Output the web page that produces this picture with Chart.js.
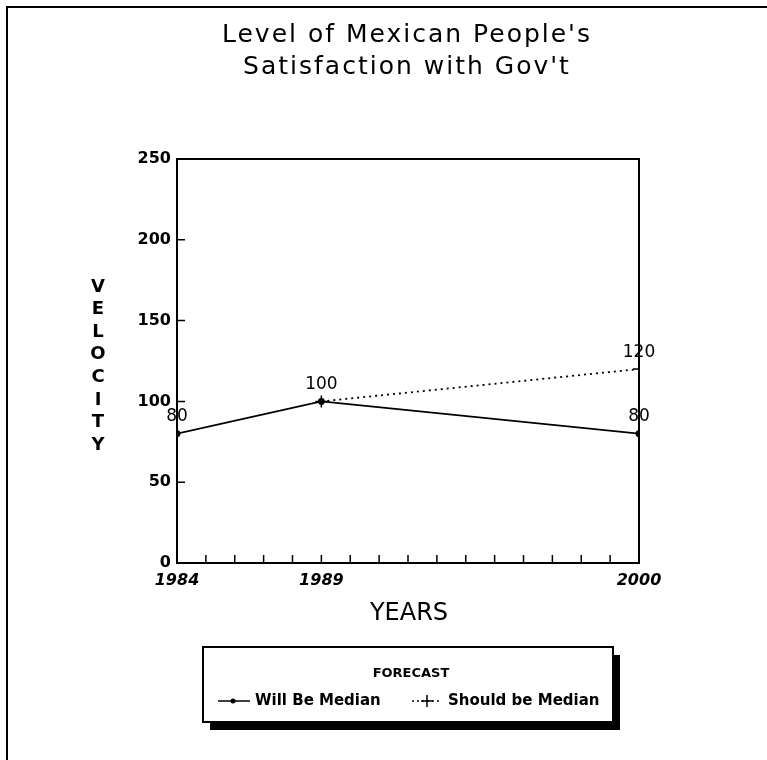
<!DOCTYPE html>
<html>
<head>
<meta charset="utf-8">
<script src="https://cdn.jsdelivr.net/npm/chart.js@4.4.0/dist/chart.umd.min.js"></script>
<style>
  html, body { margin: 0; padding: 0; background: #fff; }
  #wrap { width: 767px; height: 760px; position: relative; }
</style>
</head>
<body>
<div id="wrap"><canvas id="chart" width="767" height="760"></canvas></div>
<script>
// chart data
const titleLines = ["Level of Mexican People's", "Satisfaction with Gov't"];
const years = [1984, 1989, 2000];
const willBeMedian = [80, 100, 80];
const shouldBeMedian = [null, 100, 120];
const seriesNames = ['Will Be Median', 'Should be Median'];
const xTickLabels = [1984, 1989, 2000];
const yTitle = 'VELOCITY';
const xTitle = 'YEARS';
const legendTitle = 'FORECAST';

const FONT = '"DejaVu Sans", "Liberation Sans", sans-serif';

function toPoints(vals) {
  return years.map((yr, i) => ({ x: yr, y: vals[i] }));
}

// frame, inward ticks, value labels, titles and the boxed legend
const decor = {
  id: 'decor',
  afterDraw(chart) {
    const { ctx, chartArea: a, scales } = chart;
    const xs = scales.x, ys = scales.y;
    ctx.save();
    ctx.strokeStyle = '#000';
    ctx.fillStyle = '#000';

    // outer page frame (left + top only, like the scan)
    ctx.lineWidth = 2;
    ctx.beginPath();
    ctx.moveTo(7, 760); ctx.lineTo(7, 7); ctx.lineTo(767, 7);
    ctx.stroke();

    // plot box
    ctx.strokeRect(a.left, a.top, a.right - a.left, a.bottom - a.top);

    // inward ticks
    ctx.lineWidth = 1.5;
    ctx.beginPath();
    ys.ticks.forEach((t) => {
      const y = ys.getPixelForValue(t.value);
      ctx.moveTo(a.left, y); ctx.lineTo(a.left + 8, y);
    });
    for (let yr = xs.min; yr <= xs.max; yr++) {
      const x = xs.getPixelForValue(yr);
      ctx.moveTo(x, a.bottom); ctx.lineTo(x, a.bottom - 8);
    }
    ctx.stroke();

    // value labels above the points
    ctx.font = '17px ' + FONT;
    ctx.textAlign = 'center';
    ctx.textBaseline = 'middle';
    chart.data.datasets.forEach((ds, i) => {
      chart.getDatasetMeta(i).data.forEach((pt, j) => {
        const v = ds.data[j].y;
        if (v == null) return;
        if (i === 1 && willBeMedian[j] === v) return; // shared point, labelled once
        ctx.fillText(String(v), pt.x, pt.y - 17);
      });
    });

    // chart title
    ctx.font = '25px ' + FONT;
    ctx.letterSpacing = '2px';
    titleLines.forEach((line, i) => ctx.fillText(line, 407, 35 + i * 32));

    // x title
    ctx.font = '24px ' + FONT;
    ctx.letterSpacing = '0px';
    ctx.fillText(xTitle, 409, 614);

    // y title, stacked letters
    ctx.font = 'bold 18px ' + FONT;
    yTitle.split('').forEach((ch, i) => ctx.fillText(ch, 98, 287 + i * 22.6));

    // legend box with drop shadow
    const lx = 203, ly = 647, lw = 410, lh = 75;
    ctx.fillRect(lx + 7, ly + 8, lw, lh);
    ctx.fillStyle = '#fff';
    ctx.fillRect(lx, ly, lw, lh);
    ctx.fillStyle = '#000';
    ctx.lineWidth = 2;
    ctx.strokeRect(lx, ly, lw, lh);

    ctx.font = 'bold 13px ' + FONT;
    ctx.fillText(legendTitle, 411, 674);

    const iy = 701;
    ctx.lineWidth = 1.5;
    ctx.beginPath(); ctx.moveTo(218, iy); ctx.lineTo(250, iy); ctx.stroke();
    ctx.beginPath(); ctx.arc(233, iy, 2.5, 0, Math.PI * 2); ctx.fill();
    ctx.setLineDash([2, 3]);
    ctx.beginPath(); ctx.moveTo(412, iy); ctx.lineTo(441, iy); ctx.stroke();
    ctx.setLineDash([]);
    ctx.beginPath();
    ctx.moveTo(427, iy - 6); ctx.lineTo(427, iy + 6);
    ctx.moveTo(421, iy); ctx.lineTo(433, iy);
    ctx.stroke();

    ctx.font = 'bold 15px ' + FONT;
    ctx.textAlign = 'left';
    ctx.fillText(seriesNames[0], 255, iy);
    ctx.fillText(seriesNames[1], 448, iy);
    ctx.restore();
  }
};

new Chart(document.getElementById('chart'), {
  type: 'line',
  data: {
    datasets: [
      {
        label: seriesNames[0],
        data: toPoints(willBeMedian),
        borderColor: '#000',
        backgroundColor: '#000',
        borderWidth: 1.8,
        pointStyle: 'circle',
        pointRadius: 2.5,
        tension: 0,
      },
      {
        label: seriesNames[1],
        data: toPoints(shouldBeMedian),
        borderColor: '#000',
        backgroundColor: '#000',
        borderWidth: 1.8,
        borderDash: [2, 4],
        pointStyle: 'cross',
        pointRadius: 6,
        pointBorderWidth: 1.5,
        tension: 0,
      },
    ],
  },
  options: {
    responsive: false,
    animation: false,
    devicePixelRatio: 1,
    layout: { padding: { left: 97, right: 128, top: 159, bottom: 167 } },
    plugins: { legend: { display: false }, tooltip: { enabled: false } },
    scales: {
      x: {
        type: 'linear',
        min: 1984,
        max: 2000,
        afterBuildTicks: (s) => { s.ticks = xTickLabels.map((v) => ({ value: v })); },
        afterFit: (s) => { s.height = 30; },
        grid: { display: false, drawTicks: false },
        border: { display: false },
        ticks: {
          color: '#000',
          padding: 8,
          maxRotation: 0,
          font: { family: FONT, size: 16, weight: 'bold', style: 'italic' },
          callback: (v) => String(v),
        },
      },
      y: {
        min: 0,
        max: 250,
        afterFit: (s) => { s.width = 80; },
        grid: { display: false, drawTicks: false },
        border: { display: false },
        ticks: {
          stepSize: 50,
          color: '#000',
          padding: 6,
          font: { family: FONT, size: 16, weight: 'bold' },
        },
      },
    },
  },
  plugins: [decor],
});
</script>
</body>
</html>
